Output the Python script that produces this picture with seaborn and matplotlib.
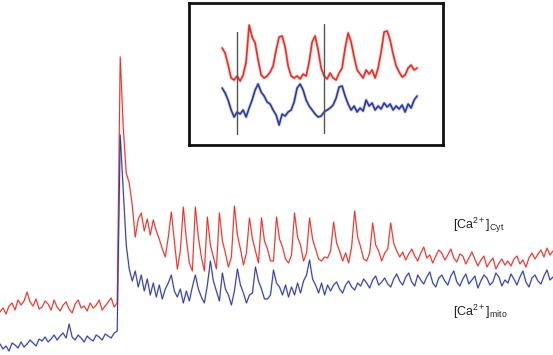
import numpy as np
import matplotlib
matplotlib.use("Agg")
import matplotlib.pyplot as plt
import seaborn as sns

# Main recording, one sample every 3 s (arbitrary fluorescence units)
SAMPLE_STEP = 3
cyt_main = [
    43, 47, 41, 49, 52, 45, 55, 50, 54, 63,
    53, 49, 56, 46, 48, 54, 51, 45, 55, 48,
    44, 50, 53, 46, 42, 51, 55, 47, 49, 44,
    52, 47, 50, 55, 45, 49, 53, 57, 48, 52,
    298, 228, 182, 172, 150, 118, 136, 142, 124, 136,
    120, 135, 124, 116, 106, 98, 118, 143, 114, 86,
    104, 148, 116, 92, 84, 148, 118, 98, 84, 138,
    110, 98, 86, 142, 114, 102, 88, 98, 149, 120,
    106, 90, 102, 137, 116, 104, 92, 137, 114, 106,
    94, 94, 138, 116, 108, 96, 92, 100, 142, 118,
    110, 94, 102, 137, 116, 106, 96, 94, 98, 97,
    104, 133, 112, 104, 94, 102, 92, 108, 144, 118,
    108, 96, 94, 102, 132, 110, 104, 94, 102, 106,
    132, 112, 104, 98, 103, 95, 101, 106, 99, 94,
    102, 108, 97, 100, 92, 99, 105, 102, 95, 100,
    106, 97, 93, 101, 99, 91, 97, 103, 96, 89,
    95, 99, 88, 93, 97, 86, 92, 96, 90, 94,
    89, 96, 99, 91, 95, 88, 97, 102, 96, 101,
    105, 98, 107, 100, 104,
]
mito_main = [
    11, 6, 9, 4, 12, 10, 7, 13, 8, 11,
    15, 12, 9, 16, 14, 18, 13, 16, 20, 15,
    19, 22, 17, 31, 18, 15, 20, 17, 13, 19,
    16, 14, 20, 18, 15, 21, 19, 17, 22, 24,
    220, 165, 110, 86, 74, 84, 68, 80, 64, 76,
    60, 72, 58, 70, 56, 66, 72, 80, 64, 58,
    66, 52, 64, 54, 68, 80, 66, 58, 52, 70,
    94, 74, 64, 54, 82, 66, 60, 50, 64, 86,
    70, 62, 52, 60, 62, 88, 74, 66, 56, 56,
    60, 85, 72, 68, 60, 70, 58, 68, 60, 72,
    62, 74, 80, 95, 76, 70, 62, 72, 60, 70,
    64, 70, 73, 66, 62, 70, 74, 68, 65, 72,
    69, 76, 72, 67, 75, 79, 70, 73, 77, 71,
    68, 76, 81, 74, 70, 78, 82, 73, 69, 80,
    75, 71, 78, 83, 72, 68, 77, 80, 74, 70,
    79, 84, 73, 69, 76, 81, 71, 75, 79, 67,
    74, 80, 77, 70, 73, 82, 78, 69, 75, 72,
    81, 76, 70, 78, 84, 73, 68, 77, 80, 74,
    71, 79, 85, 75, 78,
]

# Zoomed excerpt shown in the inset
cyt_inset = [
    97, 92, 80, 67, 65, 69, 64, 70, 83, 120,
    108, 102, 85, 70, 67, 69, 73, 79, 95, 108,
    109, 98, 79, 69, 67, 69, 66, 71, 69, 83,
    103, 109, 95, 77, 69, 66, 72, 67, 65, 72,
    77, 97, 112, 103, 88, 75, 71, 67, 75, 71,
    75, 67, 77, 93, 113, 114, 105, 91, 79, 73,
    68, 70, 77, 80, 75, 77,
]
mito_inset = [
    57, 52, 45, 35, 28, 33, 31, 35, 28, 37,
    45, 55, 61, 53, 49, 43, 41, 35, 30, 20,
    31, 29, 33, 35, 43, 57, 61, 55, 45, 39,
    35, 31, 28, 29, 33, 35, 37, 40, 47, 58,
    59, 49, 41, 35, 39, 33, 37, 34, 45, 39,
    42, 35, 39, 36, 42, 38, 41, 35, 39, 36,
    40, 33, 41, 37, 45, 49,
]
inset_markers = [15, 102]

cyt_label = r'[Ca$^{\mathrm{2+}}$]$_{\mathrm{Cyt}}$'
mito_label = r'[Ca$^{\mathrm{2+}}$]$_{\mathrm{mito}}$'

RED = '#e5302a'
BLUE = '#2d3a9e'

sns.set_theme(style='white')
plt.rcParams['font.family'] = ['Liberation Sans', 'DejaVu Sans']
plt.rcParams['mathtext.fontset'] = 'custom'
plt.rcParams['mathtext.rm'] = 'Liberation Sans'
plt.rcParams['mathtext.it'] = 'Liberation Sans:italic'


def trace(ax, t, y, color, lw):
    # soft halo under a thin core line, like the scanned recording
    sns.lineplot(x=t, y=y, ax=ax, color=color, lw=lw * 2, alpha=0.22, estimator=None)
    sns.lineplot(x=t, y=y, ax=ax, color=color, lw=lw, estimator=None)


fig = plt.figure(figsize=(5.53, 3.55), dpi=100)

# main traces
ax = fig.add_axes([0, 0, 1, 1])
trace(ax, np.arange(len(cyt_main)) * SAMPLE_STEP, cyt_main, RED, 0.7)
trace(ax, np.arange(len(mito_main)) * SAMPLE_STEP, mito_main, BLUE, 0.7)
ax.set_xlim(0, 552)
ax.set_ylim(0, 355)
ax.set_axis_off()

ax.text(452, 126, cyt_label, fontsize=9, color='#222222', va='baseline', ha='left')
ax.text(452, 39, mito_label, fontsize=9, color='#222222', va='baseline', ha='left')

# inset
ax_in = fig.add_axes([0.342, 0.5915, 0.4593, 0.4])
t_in = np.arange(len(cyt_inset)) * SAMPLE_STEP
trace(ax_in, t_in, cyt_inset, RED, 1.2)
trace(ax_in, t_in, mito_inset, BLUE, 1.2)
ax_in.axvline(inset_markers[0], ymin=0.077, ymax=0.796, color='#555555', lw=1)
ax_in.axvline(inset_markers[1], ymin=0.085, ymax=0.852, color='#555555', lw=1)
ax_in.set_xlim(-33, 221)
ax_in.set_ylim(0, 142)
ax_in.set_xticks([])
ax_in.set_yticks([])
ax_in.set_xlabel('')
ax_in.set_ylabel('')
ax_in.set_facecolor('white')
for s in ax_in.spines.values():
    s.set_visible(True)
    s.set_color('#111111')
    s.set_linewidth(2)

fig.savefig('out.png', dpi=100)
